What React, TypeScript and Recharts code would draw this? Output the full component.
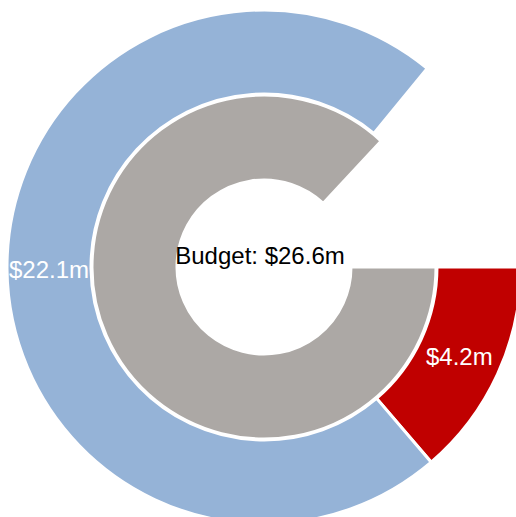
import { PieChart, Pie, Cell } from "recharts";

// values in $m
const scaleMax = 30.6;
const budgetNames = ["Budget"];
const budgetValues = [26.6];
const spendNames = ["Over", "Spent"];
const spendValues = [4.2, 22.1];
const spendColors = ["#C00000", "#95B3D7"];
const budgetColor = "#ACA8A5";

const FONT = "Liberation Sans, Arial, sans-serif";

const innerData = [
  ...budgetNames.map((n, i) => ({ name: n, value: budgetValues[i] })),
  { name: "rest", value: scaleMax - budgetValues.reduce((a, b) => a + b, 0) },
];
const outerData = [
  ...spendNames.map((n, i) => ({ name: n, value: spendValues[i] })),
  { name: "rest", value: scaleMax - spendValues.reduce((a, b) => a + b, 0) },
];

const RAD = Math.PI / 180;

function sliceLabel(p: any) {
  if (p.name === "rest") return null;
  const r = (p.innerRadius + p.outerRadius) / 2;
  const x = p.cx + r * Math.cos(-p.midAngle * RAD);
  const y = p.cy + r * Math.sin(-p.midAngle * RAD);
  return (
    <text
      x={x}
      y={y}
      fill="#fff"
      textAnchor="middle"
      dominantBaseline="central"
      fontSize={24}
      fontFamily={FONT}
    >
      {`$${p.value}m`}
    </text>
  );
}

export default function App() {
  return (
    <div style={{ position: "absolute", left: 0, top: 0, width: 516, height: 517 }}>
      <PieChart width={516} height={517} margin={{ top: 0, right: 0, bottom: 0, left: 0 }}>
        <Pie
          data={innerData}
          dataKey="value"
          cx={264}
          cy={267}
          innerRadius={87}
          outerRadius={172}
          startAngle={0}
          endAngle={-360}
          stroke="#fff"
          strokeWidth={3}
          isAnimationActive={false}
        >
          {innerData.map((d, i) => (
            <Cell
              key={i}
              fill={d.name === "rest" ? "transparent" : budgetColor}
              stroke={d.name === "rest" ? "none" : "#fff"}
            />
          ))}
        </Pie>
        <Pie
          data={outerData}
          dataKey="value"
          cx={264}
          cy={267}
          innerRadius={173}
          outerRadius={257}
          startAngle={0}
          endAngle={-360}
          stroke="#fff"
          strokeWidth={3}
          label={sliceLabel}
          labelLine={false}
          isAnimationActive={false}
        >
          {outerData.map((d, i) => (
            <Cell
              key={i}
              fill={d.name === "rest" ? "transparent" : spendColors[i]}
              stroke={d.name === "rest" ? "none" : "#fff"}
            />
          ))}
        </Pie>
      </PieChart>
      <div
        style={{
          position: "absolute",
          left: 160,
          width: 200,
          top: 242,
          textAlign: "center",
          fontFamily: FONT,
          fontSize: 24,
          lineHeight: "28px",
          color: "#000",
          pointerEvents: "none",
        }}
      >
        {`${budgetNames[0]}: $${budgetValues[0]}m`}
      </div>
    </div>
  );
}
